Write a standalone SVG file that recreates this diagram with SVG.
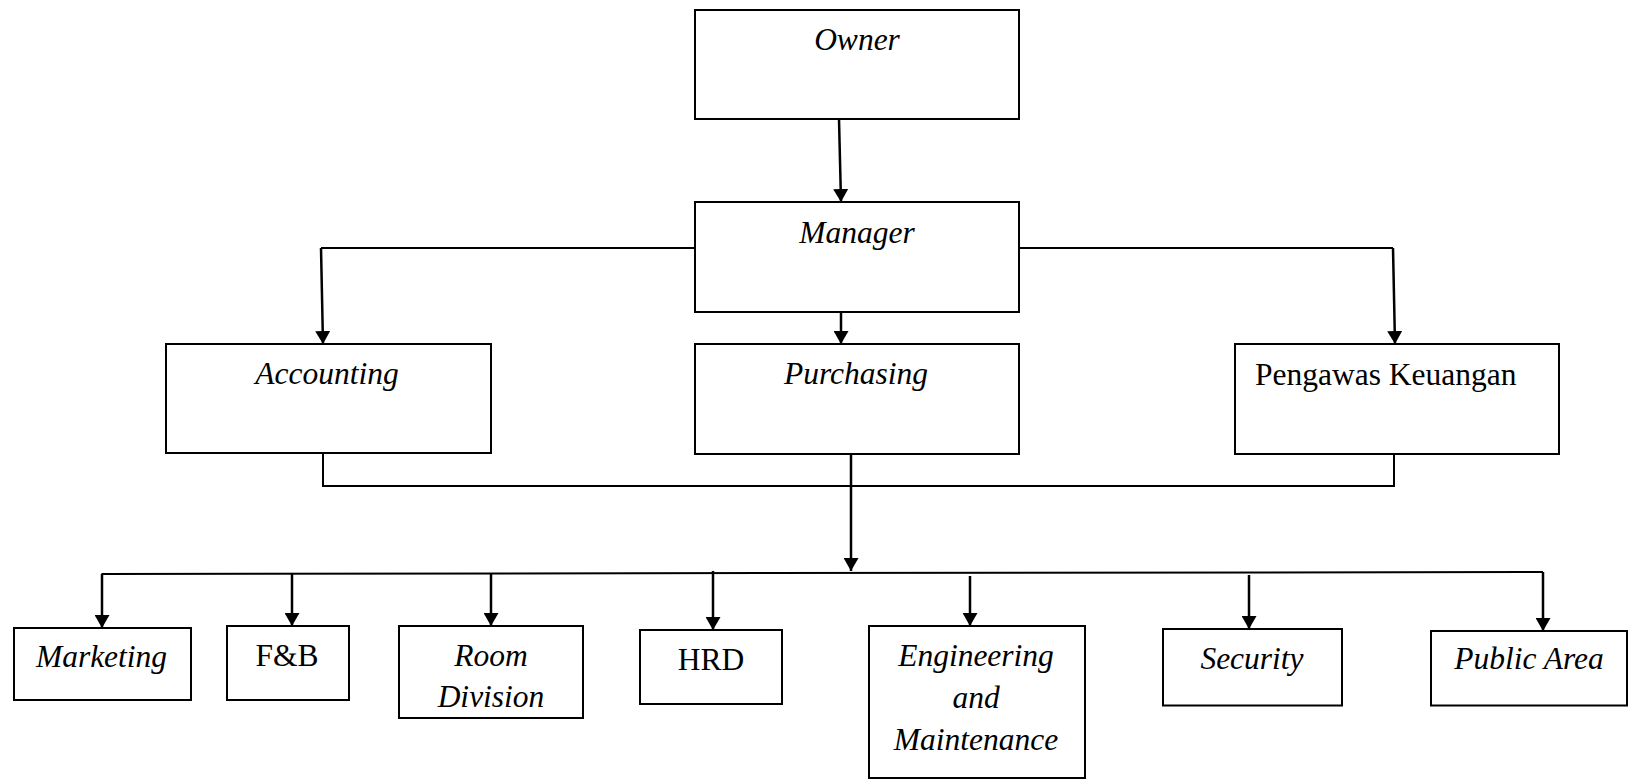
<svg xmlns="http://www.w3.org/2000/svg" width="1629" height="779" viewBox="0 0 1629 779">
<style>
.box{fill:#fff;stroke:#000;stroke-width:2}
.ln{fill:none;stroke:#000;stroke-width:2}
.ar{fill:none;stroke:#000;stroke-width:2.5;marker-end:url(#ah)}
text{font-family:"Liberation Serif","Times New Roman",serif;font-size:31.5px;fill:#000}
.i{font-style:italic}
.c{text-anchor:middle}
</style>
<defs>
<marker id="ah" viewBox="0 0 13 15" refX="13" refY="7.5" markerWidth="13" markerHeight="15" markerUnits="userSpaceOnUse" orient="auto">
<path d="M0,0 L13,7.5 L0,15 z" fill="#000"/>
</marker>
</defs>
<rect width="1629" height="779" fill="#fff"/>
<g id="connectors">
<line class="ar" x1="839" y1="119" x2="841" y2="202"/>
<polyline class="ln" points="695,248 321,248"/>
<line class="ar" x1="321" y1="248" x2="323" y2="344"/>
<polyline class="ln" points="1019,248 1393,248"/>
<line class="ar" x1="1393" y1="248" x2="1395" y2="344"/>
<line class="ar" x1="841" y1="312" x2="841" y2="344"/>
<polyline class="ln" points="323,453 323,486 1394,486 1394,454"/>
<line class="ar" x1="851" y1="454" x2="851" y2="571"/>
<line class="ln" x1="101.5" y1="574" x2="1543" y2="572"/>
<line class="ar" x1="102" y1="574" x2="102" y2="628"/>
<line class="ar" x1="292" y1="574" x2="292" y2="626"/>
<line class="ar" x1="491" y1="574" x2="491" y2="626"/>
<line class="ar" x1="713" y1="571" x2="713" y2="630"/>
<line class="ar" x1="970" y1="576" x2="970" y2="626"/>
<line class="ar" x1="1249" y1="575" x2="1249" y2="629"/>
<line class="ar" x1="1543" y1="572" x2="1543" y2="631"/>
</g>
<g id="owner"><rect class="box" x="695" y="10" width="324" height="109"/><text class="i c" x="857" y="50">Owner</text></g>
<g id="manager"><rect class="box" x="695" y="202" width="324" height="110"/><text class="i c" x="857" y="243">Manager</text></g>
<g id="accounting"><rect class="box" x="166" y="344" width="325" height="109"/><text class="i c" x="327" y="384">Accounting</text></g>
<g id="purchasing"><rect class="box" x="695" y="344" width="324" height="110"/><text class="i c" x="856" y="384">Purchasing</text></g>
<g id="pengawas"><rect class="box" x="1235" y="344" width="324" height="110"/><text x="1255" y="385">Pengawas Keuangan</text></g>
<g id="marketing"><rect class="box" x="14" y="628" width="177" height="72"/><text class="i c" x="101.5" y="667">Marketing</text></g>
<g id="fnb"><rect class="box" x="227" y="626" width="122" height="74"/><text class="c" x="287" y="666">F&amp;B</text></g>
<g id="room"><rect class="box" x="399" y="626" width="184" height="92"/><text class="i c" x="491" y="666">Room</text><text class="i c" x="491" y="707">Division</text></g>
<g id="hrd"><rect class="box" x="640" y="630" width="142" height="74"/><text class="c" x="711" y="670">HRD</text></g>
<g id="engineering"><rect class="box" x="869" y="626" width="216" height="152"/><text class="i c" x="976" y="666">Engineering</text><text class="i c" x="976" y="708">and</text><text class="i c" x="976" y="750">Maintenance</text></g>
<g id="security"><rect class="box" x="1163" y="629" width="179" height="76.5"/><text class="i c" x="1252" y="668.5">Security</text></g>
<g id="publicarea"><rect class="box" x="1431" y="631" width="196" height="74.5"/><text class="i c" x="1529" y="668.5">Public Area</text></g>
</svg>
